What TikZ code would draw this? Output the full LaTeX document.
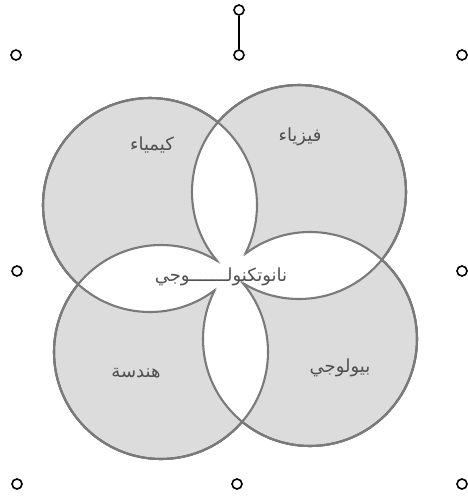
\documentclass[tikz,border=0pt]{standalone}
\usepackage{fontspec}
\newfontfamily\arabicfont[Script=Arabic]{DejaVu Sans}
\TeXXeTstate=1
\usetikzlibrary{positioning}
\definecolor{petalgray}{HTML}{DCDCDC}
\definecolor{ringgray}{HTML}{7A7A7A}
\definecolor{inkgray}{HTML}{505050}
\newcommand{\ringR}{107pt}
\newcommand{\ar}[1]{{\arabicfont\beginR #1\endR}}
\tikzset{
  petal/.style={fill=petalgray},
  ring/.style={draw=ringgray, line width=2.1pt},
  fieldlabel/.style={text=inkgray, font=\fontsize{18}{20}\selectfont, inner sep=1pt},
  handle/.style={circle, draw=black, line width=1.6pt, fill=white,
                 minimum size=10pt, inner sep=0pt}}
\begin{document}
\begin{tikzpicture}[x=1pt, y=-1pt]
    \useasboundingbox (0,0) rectangle (467,503);
    \coordinate (cTL) at (150,205);
    \coordinate (cTR) at (299,192);
    \coordinate (cBL) at (161,352);
    \coordinate (cBR) at (310,339);
    \foreach \cur in {TL,TR,BL,BR}
      \fill[petal] (c\cur) circle (\ringR);
    \foreach \oa/\ob in {TL/TR,TL/BL,TL/BR,TR/BL,TR/BR,BL/BR}{
      \begin{scope}
        \clip (c\oa) circle (\ringR);
        \fill[white] (c\ob) circle (\ringR);
      \end{scope}}
    \foreach \cur/\oa/\ob in {TL/TR/BL,TL/TR/BR,TL/BL/BR,TR/TL/BL,TR/TL/BR,TR/BL/BR,
                             BL/TL/TR,BL/TL/BR,BL/TR/BR,BR/TL/TR,BR/TL/BL,BR/TR/BL}{
      \begin{scope}[even odd rule]
        \clip (-20,-20) rectangle (490,520) (c\oa) circle (\ringR);
        \clip (-20,-20) rectangle (490,520) (c\ob) circle (\ringR);
        \draw[ring] (c\cur) circle (\ringR);
      \end{scope}}
    \node[fieldlabel] (chem) at (152,145) {\ar{كيمياء}};
    \node[fieldlabel] (phys) at (300,137) {\ar{فيزياء}};
    \node[fieldlabel] (engi) at (136,373) {\ar{هندسة}};
    \node[fieldlabel] (bio) at (340,368) {\ar{بيولوجي}};
    \node[fieldlabel] (nano) at (221,277) {\ar{نانوتكنولـــــــوجي}};
    \node[handle] (hrot) at (239,10) {};
    \node[handle] (hn) at (239,55) {};
    \node[handle] (hnw) at (16,55) {};
    \node[handle] (hne) at (462,55) {};
    \node[handle] (hw) at (17,271) {};
    \node[handle] (he) at (462,271) {};
    \node[handle] (hsw) at (17,484) {};
    \node[handle] (hs) at (237,484) {};
    \node[handle] (hse) at (462,484) {};
    \draw[line width=1.6pt] (hrot) -- (hn);
  \end{tikzpicture}
\end{document}
